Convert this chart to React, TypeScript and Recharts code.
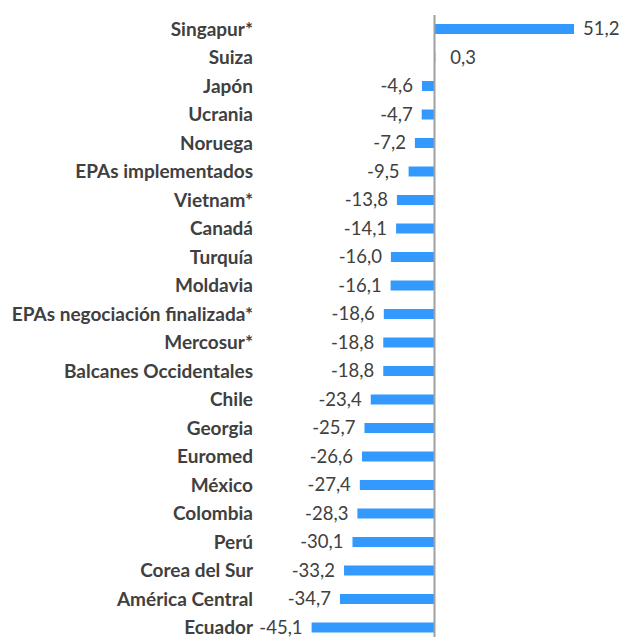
import React from "react";
import { BarChart, Bar, XAxis, YAxis, ReferenceLine, LabelList } from "recharts";

const categories = [
  "Singapur*",
  "Suiza",
  "Japón",
  "Ucrania",
  "Noruega",
  "EPAs implementados",
  "Vietnam*",
  "Canadá",
  "Turquía",
  "Moldavia",
  "EPAs negociación finalizada*",
  "Mercosur*",
  "Balcanes Occidentales",
  "Chile",
  "Georgia",
  "Euromed",
  "México",
  "Colombia",
  "Perú",
  "Corea del Sur",
  "América Central",
  "Ecuador",
];

const values = [
  51.2, 0.3, -4.6, -4.7, -7.2, -9.5, -13.8, -14.1, -16.0, -16.1, -18.6, -18.8,
  -18.8, -23.4, -25.7, -26.6, -27.4, -28.3, -30.1, -33.2, -34.7, -45.1,
];

const data = categories.map((name, i) => ({ name, value: values[i] }));

const TEXT = "#404040";
const FONT = "Lato, 'Open Sans', sans-serif";

const fmt = (v: number) => v.toFixed(1).replace(".", ",");

const ValueLabel = (props: any) => {
  const { x, y, width, height, value } = props;
  const left = Math.min(x, x + width);
  const right = Math.max(x, x + width);
  const cy = y + height / 2;
  const neg = value < 0;
  const small = Math.abs(right - left) < 3;
  return (
    <text
      x={neg ? left - 9 : right + (small ? 15 : 9)}
      y={cy}
      dy="0.35em"
      textAnchor={neg ? "end" : "start"}
      fill={TEXT}
      fontFamily={FONT}
      fontSize={18.5}
    >
      {fmt(value)}
    </text>
  );
};

export default function App() {
  return (
    <div
      style={{
        position: "fixed",
        top: 0,
        left: 0,
        width: 624,
        height: 637,
        overflow: "hidden",
        background: "#fff",
      }}
    >
      <BarChart
        width={624}
        height={642}
        data={data}
        layout="vertical"
        margin={{ top: 15, right: 26, bottom: 0, left: 0 }}
        barSize={10}
      >
        <XAxis type="number" hide domain={[-60, 60]} />
        <YAxis
          type="category"
          dataKey="name"
          width={271}
          axisLine={false}
          tickLine={false}
          tickSize={0}
          tickMargin={18}
          interval={0}
          tick={{ fill: TEXT, fontFamily: FONT, fontSize: 19, fontWeight: 700 }}
        />
        <Bar dataKey="value" fill="#3399FF" isAnimationActive={false}>
          <LabelList dataKey="value" content={<ValueLabel />} />
        </Bar>
        <ReferenceLine x={0} stroke="#A0A0A0" strokeWidth={2} />
      </BarChart>
    </div>
  );
}
